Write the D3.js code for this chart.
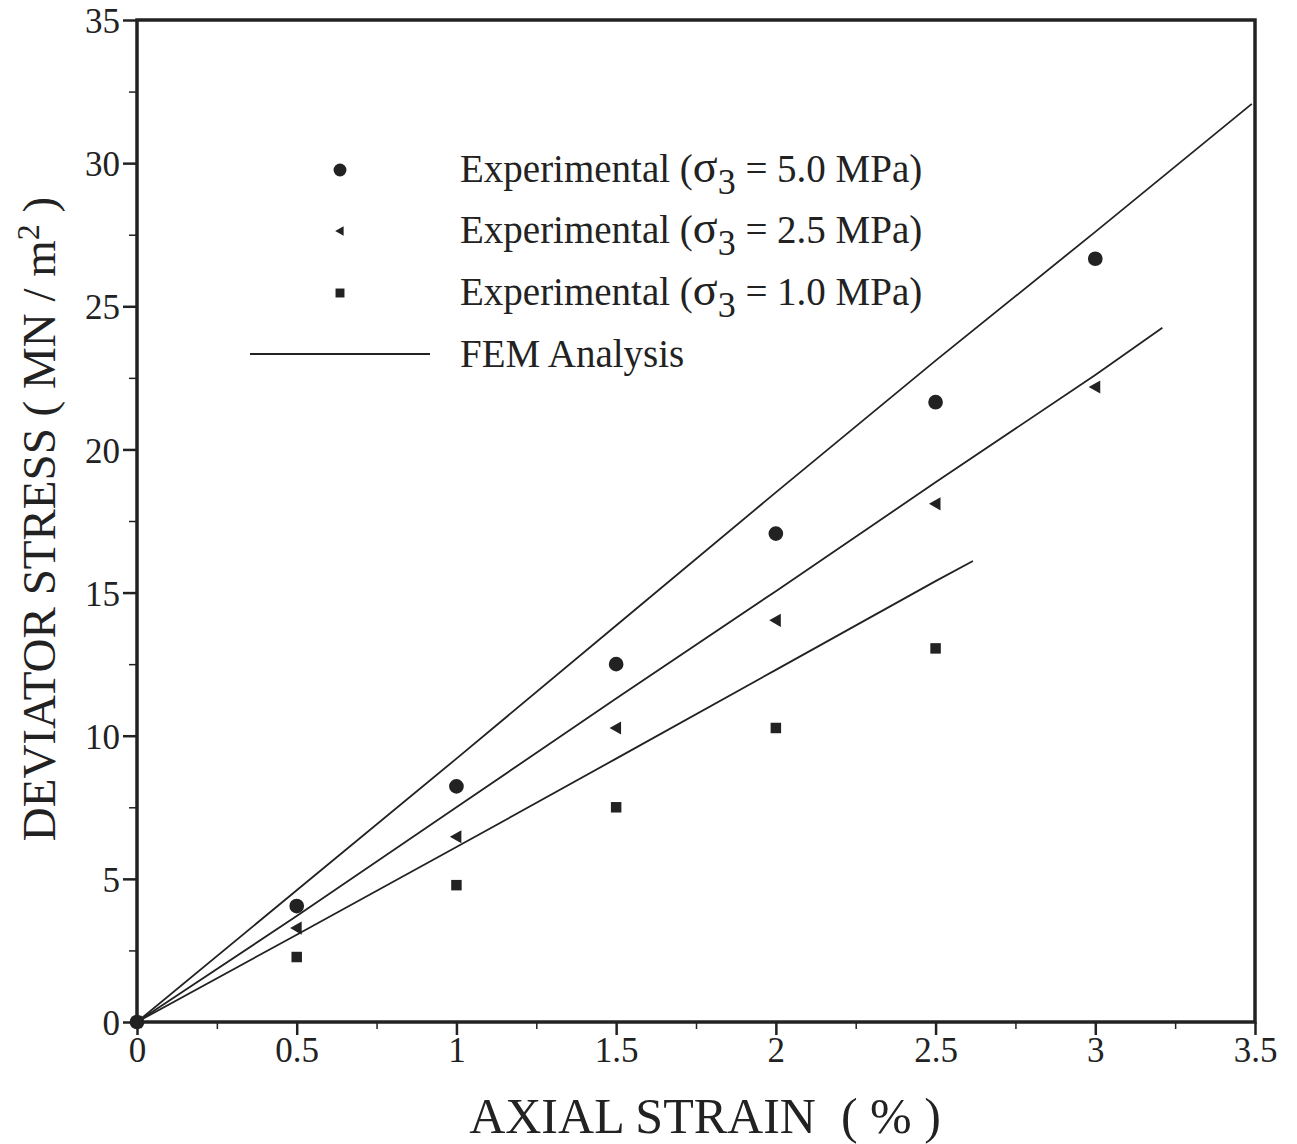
<!DOCTYPE html>
<html>
<head>
<meta charset="utf-8">
<script src="https://cdn.jsdelivr.net/npm/d3@7"></script>
<style>
  body { margin: 0; background: #fff; }
  svg { display: block; }
  text { font-family: "Liberation Serif", "Times New Roman", serif; fill: #222; }
</style>
</head>
<body>
<div id="chart"></div>
<script>
(function () {
    const WIDTH = 1297;
    const HEIGHT = 1144;

    // experimental points (axial strain %, deviator stress MN/m2)
    const strain = [0, 0.5, 1, 1.5, 2, 2.5, 3];
    const exp50 = [0, 4.05, 8.23, 12.5, 17.06, 21.65, 26.66];
    const exp25 = [0, 3.28, 6.47, 10.27, 14.03, 18.1, 22.18];
    const strain10 = [0, 0.5, 1, 1.5, 2, 2.5];
    const exp10 = [0, 2.27, 4.78, 7.5, 10.27, 13.05];

    // FEM curves
    const femX50 = [0, 0.5, 1, 1.5, 2, 2.5, 3, 3.49];
    const femY50 = [0, 4.6, 9.2, 13.85, 18.5, 23.1, 27.6, 32.07];
    const femX25 = [0, 0.5, 1, 1.5, 2, 2.5, 3, 3.21];
    const femY25 = [0, 3.7, 7.5, 11.3, 15.05, 18.85, 22.6, 24.25];
    const femX10 = [0, 0.5, 1, 1.5, 2, 2.5, 2.617];
    const femY10 = [0, 3.05, 6.11, 9.2, 12.3, 15.4, 16.1];

    const xTicks = [0, 0.5, 1, 1.5, 2, 2.5, 3, 3.5];
    const xTickLabels = ["0", "0.5", "1", "1.5", "2", "2.5", "3", "3.5"];
    const yTicks = [0, 5, 10, 15, 20, 25, 30, 35];
    const legendValues = ["5.0", "2.5", "1.0"];

    const INK = "#222";
    const left = 137, right = 1255, top = 20, bottom = 1022;

    let x = d3.scaleLinear().domain([0, 3.5]).range([left, right]);
    let y = d3.scaleLinear().domain([0, 35]).range([bottom, top]);

    let svg = d3.select("#chart").append("svg")
        .attr("width", WIDTH)
        .attr("height", HEIGHT);

    // minor ticks
    svg.append("g")
        .attr("transform", `translate(0,${bottom})`)
        .call(d3.axisBottom(x).tickValues(d3.range(0.25, 3.5, 0.5)).tickSize(7).tickFormat(""))
        .call(g => g.select(".domain").remove())
        .call(g => g.selectAll("line").attr("stroke", INK).attr("stroke-width", 1.5));
    svg.append("g")
        .attr("transform", `translate(${left},0)`)
        .call(d3.axisLeft(y).tickValues(d3.range(2.5, 35, 5)).tickSize(8).tickFormat(""))
        .call(g => g.select(".domain").remove())
        .call(g => g.selectAll("line").attr("stroke", INK).attr("stroke-width", 1.5));

    // major axes
    let xAxis = svg.append("g")
        .attr("transform", `translate(0,${bottom})`)
        .call(d3.axisBottom(x).tickValues(xTicks).tickSize(13).tickPadding(2)
            .tickFormat((d, i) => xTickLabels[i]));
    let yAxis = svg.append("g")
        .attr("transform", `translate(${left},0)`)
        .call(d3.axisLeft(y).tickValues(yTicks).tickSize(14).tickPadding(3));

    [xAxis, yAxis].forEach(g => {
        g.select(".domain").remove();
        g.selectAll("line").attr("stroke", INK).attr("stroke-width", 2.5);
        g.selectAll("text")
            .style("font-family", '"Liberation Serif", serif')
            .attr("font-size", 35)
            .attr("fill", INK);
    });
    yAxis.selectAll("text").attr("dy", "0.36em");

    // frame
    svg.append("rect")
        .attr("x", left).attr("y", top)
        .attr("width", right - left).attr("height", bottom - top)
        .attr("fill", "none")
        .attr("stroke", INK)
        .attr("stroke-width", 3.5);

    // FEM lines
    let line = d3.line().x(d => x(d[0])).y(d => y(d[1]));
    [[femX50, femY50], [femX25, femY25], [femX10, femY10]].forEach(([xs, ys]) => {
        svg.append("path")
            .datum(xs.map((v, i) => [v, ys[i]]))
            .attr("d", line)
            .attr("fill", "none")
            .attr("stroke", INK)
            .attr("stroke-width", 1.8);
    });

    // markers
    let circleSym = d3.symbol().type(d3.symbolCircle).size(170);
    let squareSym = d3.symbol().type(d3.symbolSquare).size(110);
    let triPath = function (s) {
        // left-pointing triangle
        return `M${-s * 0.6},0L${s * 0.45},${-s * 0.6}L${s * 0.45},${s * 0.6}Z`;
    };

    svg.append("g").selectAll("path")
        .data(strain.map((v, i) => [v, exp50[i]]))
        .join("path")
        .attr("d", circleSym)
        .attr("fill", INK)
        .attr("transform", d => `translate(${x(d[0])},${y(d[1])})`);
    svg.append("g").selectAll("path")
        .data(strain.map((v, i) => [v, exp25[i]]))
        .join("path")
        .attr("d", triPath(11))
        .attr("fill", INK)
        .attr("transform", d => `translate(${x(d[0])},${y(d[1])})`);
    svg.append("g").selectAll("path")
        .data(strain10.map((v, i) => [v, exp10[i]]))
        .join("path")
        .attr("d", squareSym)
        .attr("fill", INK)
        .attr("transform", d => `translate(${x(d[0])},${y(d[1])})`);

    // legend
    let legend = svg.append("g");
    const rowY = [170, 231, 293, 354];
    legend.append("path").attr("d", d3.symbol().type(d3.symbolCircle).size(130))
        .attr("fill", INK).attr("transform", `translate(340,${rowY[0]})`);
    legend.append("path").attr("d", triPath(8))
        .attr("fill", INK).attr("transform", `translate(340,${rowY[1]})`);
    legend.append("path").attr("d", d3.symbol().type(d3.symbolSquare).size(80))
        .attr("fill", INK).attr("transform", `translate(340,${rowY[2]})`);
    legend.append("line")
        .attr("x1", 250).attr("x2", 430)
        .attr("y1", rowY[3]).attr("y2", rowY[3])
        .attr("stroke", INK).attr("stroke-width", 1.8);

    legendValues.forEach((v, i) => {
        let t = legend.append("text")
            .attr("x", 460)
            .attr("y", rowY[i] + 12)
            .attr("font-size", 39);
        t.append("tspan").text("Experimental (");
        t.append("tspan").attr("font-size", 46).text("σ");
        t.append("tspan").attr("dy", 12).attr("font-size", 36).text("3");
        t.append("tspan").attr("dy", -12).text(` = ${v} MPa)`);
    });
    legend.append("text")
        .attr("x", 460)
        .attr("y", rowY[3] + 13)
        .attr("font-size", 39)
        .text("FEM Analysis");

    // axis titles
    svg.append("text")
        .attr("x", 705)
        .attr("y", 1133)
        .attr("text-anchor", "middle")
        .attr("font-size", 50)
        .style("white-space", "pre")
        .text("AXIAL STRAIN  ( % )");

    let yt = svg.append("text")
        .attr("transform", "translate(55,519) rotate(-90)")
        .attr("text-anchor", "middle")
        .attr("font-size", 47);
    yt.append("tspan").text("DEVIATOR STRESS ( MN / m");
    yt.append("tspan").attr("dy", -16).attr("font-size", 32).text("2");
    yt.append("tspan").attr("dy", 16).text(" )");
})();
</script>
</body>
</html>
